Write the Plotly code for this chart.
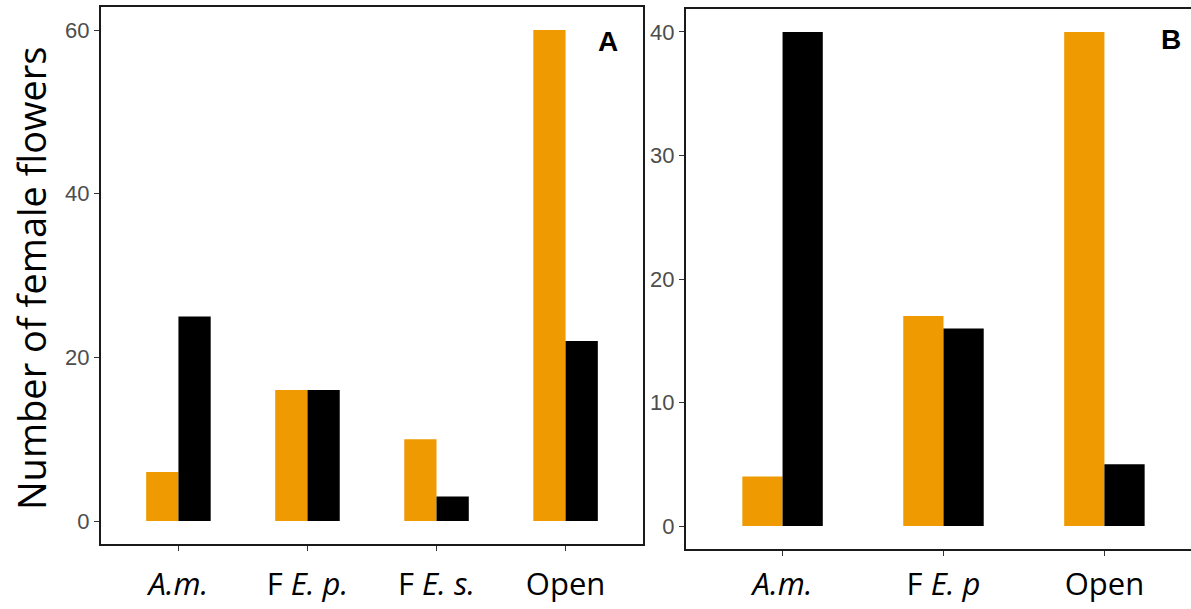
import plotly.graph_objects as go

W, H = 1191, 609

cats_a = ["<i>A.m.</i>", "F <i>E. p.</i>", "F <i>E. s.</i>", "Open"]
orange_a = [6, 16, 10, 60]
black_a = [25, 16, 3, 22]

cats_b = ["<i>A.m.</i>", "F <i>E. p</i>", "Open"]
orange_b = [4, 17, 40]
black_b = [40, 16, 5]

ORANGE = "#EE9A00"
BLACK = "#000000"

fig = go.Figure()
fig.add_trace(go.Bar(x=cats_a, y=orange_a, marker_color=ORANGE, marker_line_width=0, xaxis="x", yaxis="y", showlegend=False))
fig.add_trace(go.Bar(x=cats_a, y=black_a, marker_color=BLACK, marker_line_width=0, xaxis="x", yaxis="y", showlegend=False))
fig.add_trace(go.Bar(x=cats_b, y=orange_b, marker_color=ORANGE, marker_line_width=0, xaxis="x2", yaxis="y2", showlegend=False))
fig.add_trace(go.Bar(x=cats_b, y=black_b, marker_color=BLACK, marker_line_width=0, xaxis="x2", yaxis="y2", showlegend=False))

def px_x(p):
    return p / W

def px_y(p):
    return 1 - p / H

tickfont = dict(family="Liberation Sans, Arial", size=22, color="#4D4D4D")
xfont = dict(family="Open Sans", size=31, color="#000000")

common = dict(showline=True, linecolor="#1a1a1a", linewidth=2,
              ticks="outside", ticklen=5, tickcolor="#333333", tickwidth=1,
              showgrid=False, zeroline=False, automargin=False)

fig.update_layout(
    width=W, height=H,
    margin=dict(l=0, r=0, t=0, b=0, autoexpand=False),
    paper_bgcolor="white", plot_bgcolor="white",
    barmode="group", bargap=0.5, bargroupgap=0,
    xaxis=dict(domain=[px_x(101), px_x(643)], range=[-0.6, 3.6], type="category",
               mirror=True, tickfont=xfont, anchor="y", ticklabelstandoff=7, **common),
    yaxis=dict(domain=[px_y(544), px_y(7)], range=[-2.81, 62.81],
               tickvals=[0, 20, 40, 60], mirror=True,
               tickfont=tickfont, anchor="x", **common),
    xaxis2=dict(domain=[px_x(686), 1.0], range=[-0.6, 2.538], type="category",
                mirror=True, tickfont=xfont, anchor="y2", ticklabelstandoff=2, **common),
    yaxis2=dict(domain=[px_y(549), px_y(9)], range=[-1.86, 41.86],
                tickvals=[0, 10, 20, 30, 40], mirror=False,
                tickfont=tickfont, anchor="x2", **common),
    annotations=[
        dict(text="Number of female flowers", xref="paper", yref="paper",
             x=px_x(31), y=px_y(279), textangle=-90, showarrow=False,
             font=dict(family="Open Sans", size=38, color="#000000"),
             xanchor="center", yanchor="middle"),
        dict(text="<b>A</b>", xref="paper", yref="paper", x=px_x(608), y=px_y(41),
             showarrow=False, font=dict(family="Liberation Sans, Arial", size=28, color="#000"),
             xanchor="center", yanchor="middle"),
        dict(text="<b>B</b>", xref="paper", yref="paper", x=px_x(1171), y=px_y(39),
             showarrow=False, font=dict(family="Liberation Sans, Arial", size=28, color="#000"),
             xanchor="center", yanchor="middle"),
    ],
)

fig.write_html("out.html")
